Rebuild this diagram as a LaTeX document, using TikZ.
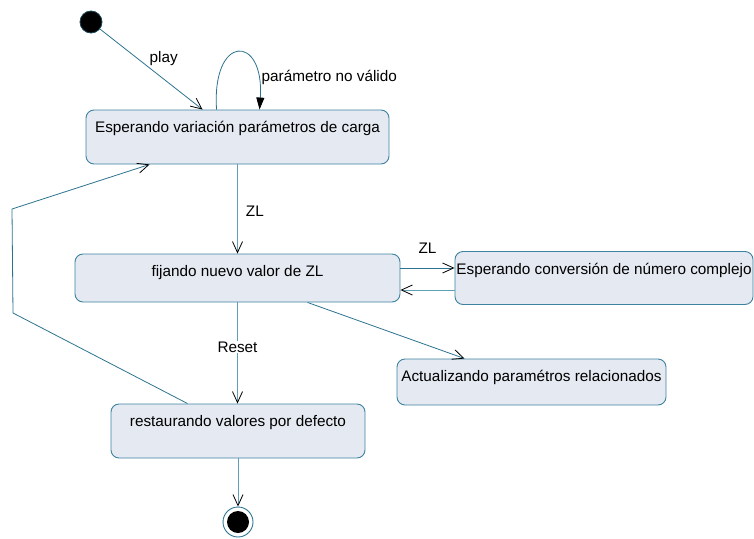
\documentclass[tikz,border=0pt]{standalone}
\usepackage{fontspec}
\setmainfont{Liberation Sans}
\usetikzlibrary{arrows.meta,calc}
\definecolor{wire}{HTML}{2C7390}
\definecolor{wirelight}{HTML}{5E9FB6}
\definecolor{stateedge}{HTML}{3D82A0}
\definecolor{statefill}{HTML}{E5E9F1}
\tikzset{
  state/.style={draw=stateedge, fill=statefill, rounded corners=8pt, line width=0.9pt,
    inner sep=0pt, text height=22.7pt, font=\fontsize{15.3}{18}\selectfont},
  opentip/.style={-{Straight Barb[length=11pt,width=10pt,color=black,line width=0.8pt]}},
  filledtip/.style={-{Triangle[length=12pt,width=8pt,color=black]}},
  wireline/.style={draw=wire, line width=0.8pt},
  lbl/.style={font=\fontsize{15.3}{18}\selectfont, inner sep=0pt},
  startdot/.style={circle, fill=black, draw=wire!60!black, line width=0.8pt, minimum size=22pt, inner sep=0pt},
  enddot/.style={circle, draw=wire, line width=0.9pt, minimum size=30pt, inner sep=0pt},
}
\begin{document}
\begin{tikzpicture}[x=1pt, y=-1pt]
  \useasboundingbox (0,0) rectangle (754,538);

  % states
  \node[state, minimum width=303pt, text depth=31.3pt] (s1) at (237.5,137) {Esperando variación parámetros de carga};
  \node[state, minimum width=325pt, text depth=25.3pt] (s2) at (237.5,278) {fijando nuevo valor de ZL};
  \node[state, minimum width=298pt, text depth=30.3pt] (s3) at (604,278) {Esperando conversión de número complejo};
  \node[state, minimum width=269pt, text depth=23.3pt] (s4) at (531.5,382) {Actualizando paramétros relacionados};
  \node[state, minimum width=254pt, text depth=31.3pt] (s5) at (238,431) {restaurando valores por defecto};

  % pseudo-states
  \node[startdot] (init) at (91,22) {};
  \node[enddot] (final) at (238,522) {};
  \fill[black] (final) circle[radius=11pt];

  % bend points of the return path
  \coordinate (bendlow) at (13,313);
  \coordinate (bendhigh) at (12,209);
  \coordinate (loopA) at ($(s1.north west)+(131,0)$);
  \coordinate (loopB) at ($(s1.north west)+(174,0)$);

  % transitions
  \draw[wireline, opentip] (init) -- node[lbl, midway, anchor=south west, xshift=-2pt, yshift=3pt] {play} ($(s1.north west)+(117,0)$);
  \draw[wireline, filledtip] (loopA) .. controls ($(loopA)+(-5,-76)$) and ($(loopB)+(5,-76)$) .. (loopB)
    node[lbl, pos=0.75, anchor=west, xshift=7pt, yshift=-11pt] {parámetro no válido};
  \draw[wireline, draw=wirelight, opentip] (s1.south) -- node[lbl, anchor=west, xshift=8pt, yshift=-2pt] {ZL} (s2.north);
  \draw[wireline, opentip] ($(s2.east)+(0,-10)$) -- node[lbl, anchor=south, yshift=14pt] {ZL} ($(s3.west)+(0,-10)$);
  \draw[wireline, draw=wirelight, opentip] ($(s3.west)+(0,12)$) -- ($(s2.east)+(0,12)$);
  \draw[wireline, opentip] ($(s2.south west)+(233,0)$) -- ($(s4.north west)+(68,0)$);
  \draw[wireline, draw=wirelight, opentip] (s2.south) -- node[lbl, fill=white, inner sep=1pt, yshift=6pt] {Reset} (s2.south |- s5.north);
  \draw[wireline, opentip] ($(s5.north west)+(77,0)$) -- (bendlow) -- (bendhigh) -- ($(s1.south west)+(64,0)$);
  \draw[wireline, draw=wirelight, opentip] (s5.south) -- (final);
\end{tikzpicture}
\end{document}
